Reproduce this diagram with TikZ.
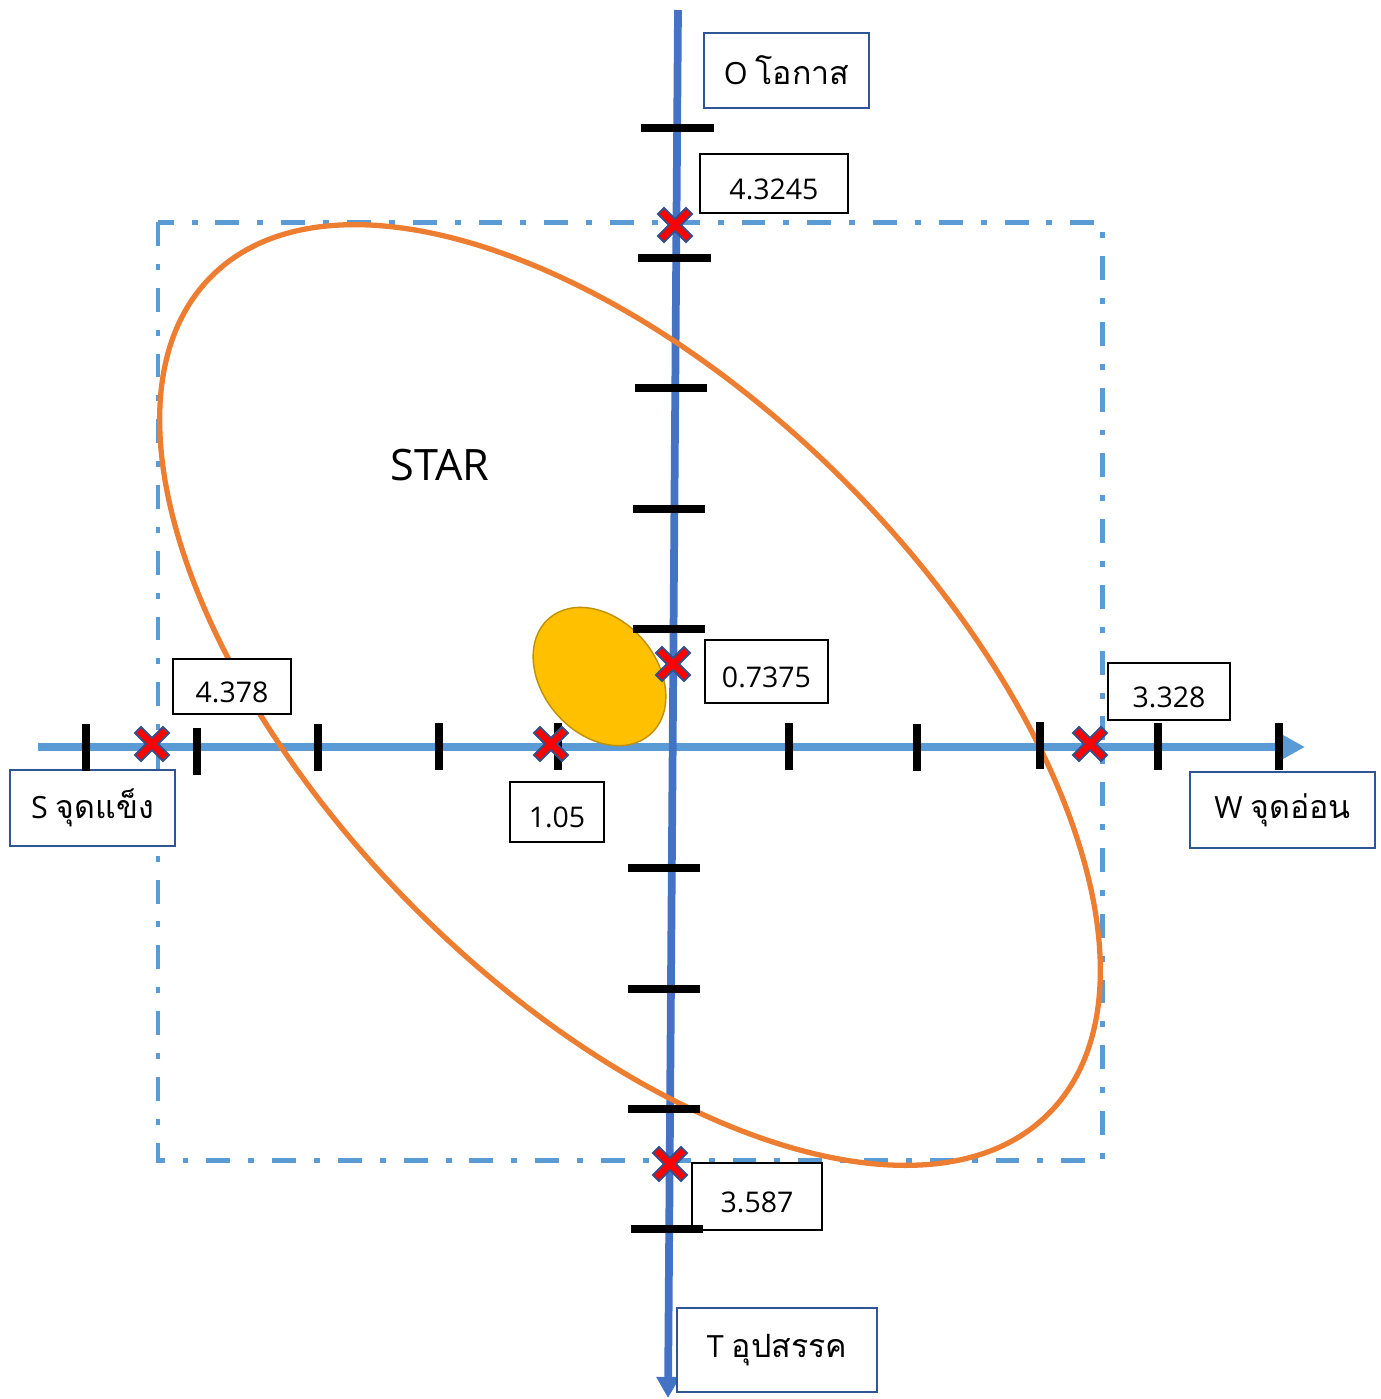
\documentclass[tikz,border=0pt]{standalone}
\usepackage{fontspec}
\setmainfont{Open Sans}
\newfontfamily\thaifont[Script=Thai,Scale=1.05]{Loma}
\usetikzlibrary{arrows.meta,shapes.misc}
\definecolor{axisblue}{HTML}{5B9BD5}
\definecolor{axisdark}{HTML}{4472C4}
\definecolor{boxblue}{HTML}{2F5597}
\definecolor{starorange}{HTML}{ED7D31}
\definecolor{sungold}{HTML}{FFC000}
\definecolor{sunedge}{HTML}{BF9000}
\definecolor{crossedge}{HTML}{2F528F}
\tikzstyle{tickbar}=[line width=2.1pt,black]
\tikzstyle{swotframe}=[axisblue,line width=1.42pt,dash pattern=on 6.8pt off 5.1pt on 1.7pt off 5.1pt]
\tikzstyle{swotbox}=[draw=boxblue,line width=0.65pt,fill=white,inner sep=0pt,font=\fontsize{8.7}{10}\selectfont]
\tikzstyle{valbox}=[draw=black,line width=0.45pt,fill=white,inner sep=0pt,text height=9pt,text depth=0pt,font=\fontsize{8.1}{10}\selectfont]
\tikzstyle{redx}=[cross out,draw=crossedge,line width=0.55pt,double=red,double distance=1.9pt,line cap=rect,minimum size=0.2cm,inner sep=0pt]

\begin{document}
\begin{tikzpicture}[x=0.01cm,y=-0.01cm]
\useasboundingbox (0,0) rectangle (1381,1399);
\draw[swotframe] (158,222) rectangle (1102,1160);
\coordinate (hl) at (38,747);
\coordinate (hr) at (1305,747);
\coordinate (vt) at (678,10);
\coordinate (vb) at (668,1398);
\draw[axisblue,line width=2pt,-{Triangle[length=6.5pt,width=6.6pt]}] (hl) -- (hr);
\draw[axisdark,line width=2.2pt,-{Triangle[length=6pt,width=6.4pt]}] (vt) -- (vb);
\draw[starorange,line width=1.5pt,rotate around={-45:(630,695)}] (630,695) ellipse [x radius=592,y radius=303];
\draw[sunedge,fill=sungold,line width=0.4pt,rotate around={-49:(599.5,676.5)}] (599.5,676.5) ellipse [x radius=77,y radius=57];
\node[font=\fontsize{12.3}{14}\selectfont] (star) at (440,465) {STAR};
% labels
\node[swotbox,minimum width=1.65cm,minimum height=0.75cm] (labO) at (786.5,70.5) {O {\thaifont โอกาส}};
\node[swotbox,minimum width=1.65cm,minimum height=0.76cm] (labS) at (92.5,808) {S {\thaifont จุดแข็ง}};
\node[swotbox,minimum width=1.85cm,minimum height=0.76cm] (labW) at (1282.5,810) {W {\thaifont จุดอ่อน}};
\node[swotbox,minimum width=2cm,minimum height=0.84cm] (labT) at (777,1350) {T {\thaifont อุปสรรค}};
\node[valbox,minimum width=1.48cm,minimum height=0.59cm] (valO) at (774,183.5) {4.3245};
\node[valbox,minimum width=1.18cm,minimum height=0.55cm] (valS) at (232,686.5) {4.378};
\node[valbox,minimum width=1.23cm,minimum height=0.63cm] (valIn) at (766.5,671.5) {0.7375};
\node[valbox,minimum width=1.22cm,minimum height=0.57cm] (valW) at (1169,691.5) {3.328};
\node[valbox,minimum width=0.94cm,minimum height=0.6cm] (valSt) at (557,812) {1.05};
\node[valbox,minimum width=1.3cm,minimum height=0.67cm] (valT) at (757,1196.5) {3.587};
% ticks
\draw[tickbar] (86,724) -- (86,771);
\draw[tickbar] (197,728) -- (197,775);
\draw[tickbar] (318,724) -- (318,771);
\draw[tickbar] (439,723) -- (439,770);
\draw[tickbar] (558,723) -- (558,770);
\draw[tickbar] (789,723) -- (789,770);
\draw[tickbar] (917,724) -- (917,771);
\draw[tickbar] (1040,722) -- (1040,769);
\draw[tickbar] (1158,723) -- (1158,770);
\draw[tickbar] (1279,723) -- (1279,770);
\draw[tickbar] (641,128) -- (714,128);
\draw[tickbar] (638,258) -- (711,258);
\draw[tickbar] (635,388) -- (707,388);
\draw[tickbar] (633,509) -- (705,509);
\draw[tickbar] (633,629) -- (705,629);
\draw[tickbar] (628,868) -- (700,868);
\draw[tickbar] (628,989) -- (700,989);
\draw[tickbar] (628,1109) -- (700,1109);
\draw[tickbar] (631,1229) -- (703,1229);
% crosses
\node[redx] (xO) at (675,225) {};
\node[redx] (xIn) at (673,664) {};
\node[redx] (xS) at (152,744) {};
\node[redx] (xSt) at (551,744) {};
\node[redx] (xW) at (1090,744) {};
\node[redx] (xT) at (670,1164) {};
\end{tikzpicture}
\end{document}
